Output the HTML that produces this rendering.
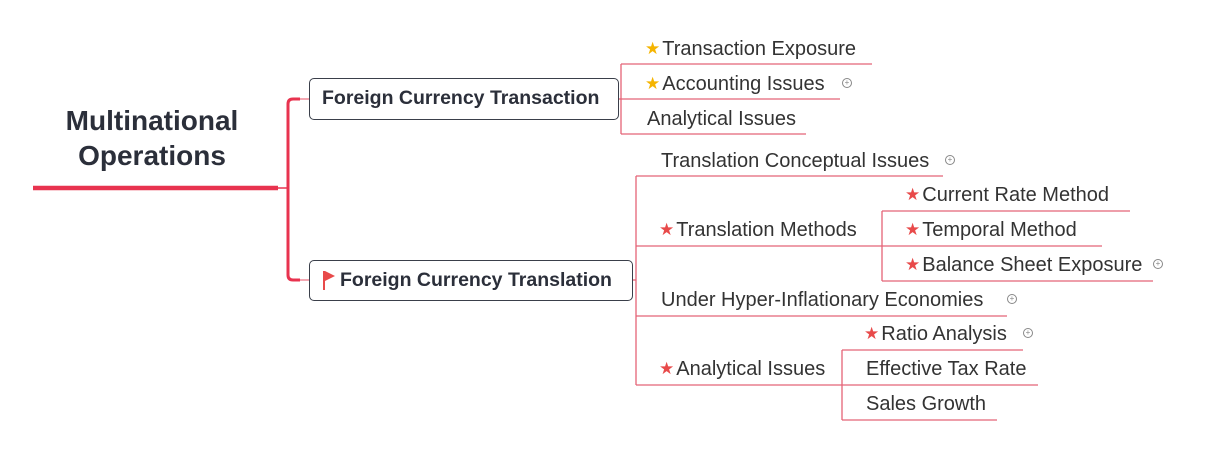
<!DOCTYPE html>
<html><head><meta charset="utf-8"><style>
body{margin:0;width:1215px;height:475px;background:#fff;position:relative;overflow:hidden;font-family:"Liberation Sans","DejaVu Sans",sans-serif;color:#333}
.t{position:absolute;font-size:20px;line-height:22px;white-space:nowrap;color:#333}
.s{font-size:17px;margin-right:2px;position:relative;top:-1px}
.y{color:#f5b400}.r{color:#e84a4a}
.box{position:absolute;border:1.8px solid #3a3f4a;border-radius:5px;font-weight:bold;font-size:19.5px;box-sizing:border-box;padding-left:12px;line-height:38px;color:#2b2f3a;white-space:nowrap}
.p{position:absolute;width:8px;height:8px;border:1px solid #888;border-radius:50%;font-size:8px;line-height:8px;text-align:center;color:#888}
</style></head><body>
<svg width="1215" height="475" style="position:absolute;left:0;top:0">
<g fill="none">
<line x1="33" y1="188" x2="278" y2="188" stroke="#e8334f" stroke-width="4.5"/>
<line x1="278" y1="188" x2="288" y2="188" stroke="#e8334f" stroke-width="1.5"/>
<path d="M300 99 H293 Q288 99 288 104 V275 Q288 280 293 280 H300" stroke="#e8334f" stroke-width="3"/>
<path d="M300 99 H310 M300 280 H310" stroke="#f08a98" stroke-width="1.5"/>
<g stroke="#e46377" stroke-width="1.3">
<line x1="618" y1="99" x2="621" y2="99"/>
<path d="M621 64 V134"/>
<line x1="621" y1="64" x2="872" y2="64"/>
<line x1="621" y1="99" x2="840" y2="99"/>
<line x1="621" y1="134" x2="806" y2="134"/>
<line x1="632" y1="280" x2="636" y2="280"/>
<path d="M636 176 V385"/>
<line x1="636" y1="176" x2="943" y2="176"/>
<line x1="636" y1="246" x2="882" y2="246"/>
<path d="M882 211 V281"/>
<line x1="882" y1="211" x2="1130" y2="211"/>
<line x1="882" y1="246" x2="1102" y2="246"/>
<line x1="882" y1="281" x2="1153" y2="281"/>
<line x1="636" y1="316" x2="1007" y2="316"/>
<line x1="636" y1="385" x2="842" y2="385"/>
<path d="M842 350 V420"/>
<line x1="842" y1="350" x2="1023" y2="350"/>
<line x1="842" y1="385" x2="1038" y2="385"/>
<line x1="842" y1="420" x2="997" y2="420"/>
</g>
<path d="M324 271 V290" stroke="#e84a4a" stroke-width="2"/>
<path d="M325 271 L335 276 L325 281 Z" fill="#e84a4a"/>
</g></svg>
<div style="position:absolute;left:42px;top:103px;width:220px;text-align:center;font-weight:bold;font-size:28px;line-height:35px;color:#2b2f3a">Multinational<br>Operations</div>
<div class="box" style="left:309px;top:78px;width:310px;height:42px">Foreign Currency Transaction</div>
<div class="box" style="left:309px;top:260px;width:324px;height:41px;padding-left:30px">Foreign Currency Translation</div>
<div class="t" style="left:645px;top:38px"><span class="s y">★</span>Transaction Exposure</div>
<div class="t" style="left:645px;top:73px"><span class="s y">★</span>Accounting Issues</div>
<div class="p" style="left:842px;top:78px">+</div>
<div class="t" style="left:647px;top:108px">Analytical Issues</div>
<div class="t" style="left:661px;top:150px">Translation Conceptual Issues</div>
<div class="p" style="left:945px;top:155px">+</div>
<div class="t" style="left:659px;top:219px"><span class="s r">★</span>Translation Methods</div>
<div class="t" style="left:905px;top:184px"><span class="s r">★</span>Current Rate Method</div>
<div class="t" style="left:905px;top:219px"><span class="s r">★</span>Temporal Method</div>
<div class="t" style="left:905px;top:254px"><span class="s r">★</span>Balance Sheet Exposure</div>
<div class="p" style="left:1153px;top:259px">+</div>
<div class="t" style="left:661px;top:289px">Under Hyper-Inflationary Economies</div>
<div class="p" style="left:1007px;top:294px">+</div>
<div class="t" style="left:864px;top:323px"><span class="s r">★</span>Ratio Analysis</div>
<div class="p" style="left:1023px;top:328px">+</div>
<div class="t" style="left:659px;top:358px"><span class="s r">★</span>Analytical Issues</div>
<div class="t" style="left:866px;top:358px">Effective Tax Rate</div>
<div class="t" style="left:866px;top:393px">Sales Growth</div>
</body></html>
